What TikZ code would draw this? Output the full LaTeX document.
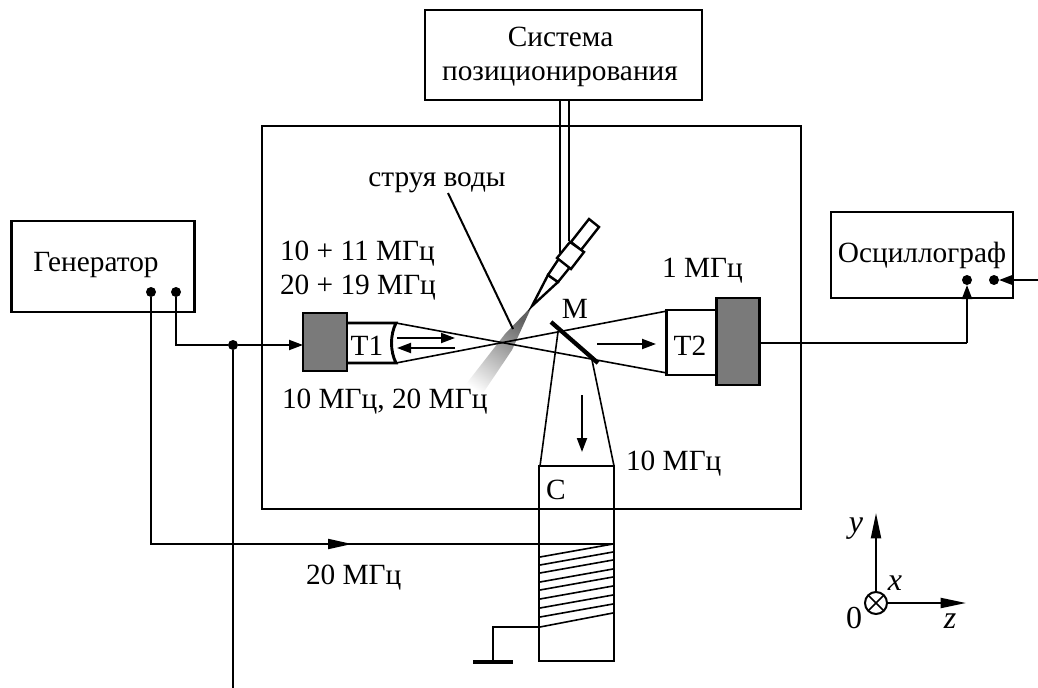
\documentclass[tikz,border=0pt]{standalone}
\usepackage{fontspec}
\setmainfont{Liberation Serif}
\usetikzlibrary{arrows.meta,shadings}
\tikzset{
  px/.style={x=0.75pt,y=-0.75pt},
  boxnode/.style={draw=black,line width=2.2pt,inner sep=0pt,outer sep=0pt,fill=white},
  heavy/.style={draw=black,line width=2.2pt},
  wire/.style={draw=black,line width=1.5pt},
  thin wire/.style={draw=black,line width=1.2pt},
  tip/.style={-{Triangle[length=10.5pt,width=7.5pt]}},
  tipmid/.style={-{Triangle[length=18pt,width=7.5pt]}},
  tiplong/.style={-{Triangle[length=19pt,width=7.5pt]}},
  dotnode/.style={circle,fill=black,inner sep=0pt,minimum size=7.5pt,outer sep=0pt},
  lbl/.style={font=\fontsize{22pt}{26pt}\selectfont,inner sep=0pt,outer sep=0pt,anchor=base},
  lblw/.style={lbl,anchor=base west},
  ital/.style={lbl,font=\fontsize{24pt}{26pt}\selectfont\itshape},
  axn/.style={lbl,font=\fontsize{24pt}{26pt}\selectfont},
  dither/.style={fill=black!52}
}
\begin{document}
\begin{tikzpicture}[px]
\useasboundingbox (0,0) rectangle (1038,688);

% chamber
\node[boxnode,fill=none,minimum width=404.25pt,minimum height=287.25pt] (chamber) at (531.5,317.5) {};

% water jet
\shade[top color=black!62,bottom color=white,shading angle=-34]
  (532,306) -- (505,334) -- (463,388) -- (477,402) -- (512,350) -- cycle;

% positioning system and stem
\node[boxnode,minimum width=207.75pt,minimum height=67.5pt] (pos) at (563.5,55) {};
\node[lbl] (postxt1) at (560.5,47) {Система};
\node[lbl] (postxt2) at (560,81) {позиционирования};
\coordinate (stemAtop) at (560,100);
\coordinate (stemBtop) at (569,100);
\coordinate (stemAend) at (560,253);
\coordinate (stemBend) at (569,241);
\draw[wire] (stemAtop) -- (stemAend);
\draw[wire] (stemBtop) -- (stemBend);

% nozzle
\draw[heavy,line width=1.8pt,fill=white] (589,219) -- (599,227) -- (581,250) -- (571,242) -- cycle;
\draw[heavy,line width=1.8pt,fill=white] (548,275) -- (532,306) -- (558,282) -- cycle;
\draw[heavy,line width=1.8pt,fill=white] (548,275) -- (558,282) -- (571,266) -- (560,257) -- cycle;
\draw[heavy,line width=1.8pt,fill=white] (570,242) -- (584,252) -- (571,269) -- (557,258) -- cycle;

% jet label and leader
\node[lbl] (jettxt) at (437,186) {струя воды};
\coordinate (jetpt) at (513,329);
\coordinate (jetlead) at (448,193);
\draw[wire] (jetlead) -- (jetpt);

% generator
\node[boxnode,minimum width=137.25pt,minimum height=68.25pt] (gen) at (103,266.5) {};
\node[lbl] (gentxt) at (96,271) {Генератор};
\node[dotnode] (g1) at (151,292) {};
\node[dotnode] (g2) at (176,292) {};
\node[dotnode] (j) at (233,345) {};
\coordinate (jdown) at (233,688);

% T1
\node[boxnode,dither,minimum width=33pt,minimum height=43.5pt] (s1) at (325,342) {};
\coordinate (t1a) at (347,323);
\coordinate (t1b) at (396,323);
\coordinate (t1c) at (396,363);
\coordinate (t1d) at (347,363);
\draw[heavy] (t1a) -- (t1b) .. controls (390,335) and (390,351) .. (t1c) -- (t1d);
\node[lbl] (t1txt) at (367,355) {Т1};

% T2
\node[boxnode,minimum width=37pt,minimum height=48.75pt] (t2) at (691.5,342.5) {};
\node[boxnode,dither,minimum width=32pt,minimum height=65.25pt] (s2) at (738,341.5) {};
\node[lbl] (t2txt) at (690,355) {Т2};

% beams
\coordinate (tA) at (667,373);
\coordinate (tB) at (667,311);
\draw[thin wire] (t1b) -- (tA);
\draw[thin wire] (t1c) -- (tB);

% mirror and beams to C
\coordinate (m1) at (551,322);
\coordinate (m2) at (598,363);
\coordinate (mA) at (558,332);
\coordinate (mB) at (592,360);
\draw[black,line width=3.2pt] (m1) -- (m2);

% C cell
\node[boxnode,fill=none,minimum width=56.25pt,minimum height=146.25pt] (cell) at (576.5,563.5) {};
\node[lbl] (ctxt) at (556,499) {С};
\coordinate (cA) at (540,466);
\coordinate (cB) at (614,466);
\draw[thin wire] (mA) -- (cA);
\draw[thin wire] (mB) -- (cB);

% beam arrows
\coordinate (a1s) at (397,338); \coordinate (a1e) at (455,338);
\coordinate (a2s) at (455,348); \coordinate (a2e) at (397,348);
\coordinate (a3s) at (597,344); \coordinate (a3e) at (656,344);
\coordinate (a4s) at (582,395); \coordinate (a4e) at (582,452);
\draw[wire,tip] (a1s) -- (a1e);
\draw[wire,tip] (a2s) -- (a2e);
\draw[wire,tip] (a3s) -- (a3e);
\draw[wire,tip] (a4s) -- (a4e);

% coil
\foreach \l/\r in {557/544,565/552,573/560,582/569,590/577,599/586,608/595,617/604,627/613}
  \draw[thin wire] (540,\l) -- (613,\r);

% ground
\coordinate (gndA) at (539,627);
\coordinate (gndB) at (493,627);
\coordinate (gndC) at (493,661);
\draw[thin wire] (gndA) -- (gndB) -- (gndC);
\coordinate (barL) at (473,662);
\coordinate (barR) at (513,662);
\draw[black,line width=3.6pt] (barL) -- (barR);

% wires
\coordinate (coilin) at (613,544);
\coordinate (g1b) at (151,544);
\coordinate (g1m) at (352,544);
\draw[wire] (g1) -- (g1b) -- (coilin);
\draw[wire,tipmid] (g1b) -- (g1m);
\coordinate (g2b) at (176,345);
\coordinate (s1in) at (303,345);
\draw[wire] (g2) -- (g2b) -- (j);
\draw[wire,tip] (j) -- (s1in);
\draw[wire] (j) -- (jdown);

% oscilloscope
\node[boxnode,minimum width=136.5pt,minimum height=64.5pt] (osc) at (922,255) {};
\node[lbl] (osctxt) at (922,262) {Осциллограф};
\node[dotnode] (o1) at (967,280) {};
\node[dotnode] (o2) at (994,280) {};
\coordinate (oin) at (1038,280);
\coordinate (owire) at (967,343);
\draw[wire,tip] (oin) -- (o2);
\draw[wire] (s2.east |- owire) -- (owire);
\draw[wire,tip] (owire) -- (o1);

% axes
\node[draw=black,line width=1.5pt,circle,minimum size=16.5pt,inner sep=0pt,outer sep=0pt,
      path picture={\draw[black,line width=1.3pt] (path picture bounding box.south west) -- (path picture bounding box.north east)
        (path picture bounding box.north west) -- (path picture bounding box.south east);}] (orig) at (876,603) {};
\coordinate (yend) at (876,513);
\coordinate (zend) at (966,603);
\draw[wire,tiplong] (orig) -- (yend);
\draw[wire,tiplong] (orig) -- (zend);

% labels
\node[lblw] (l1) at (280,260) {10 + 11 МГц};
\node[lblw] (l2) at (280,294) {20 + 19 МГц};
\node[lblw] (l3) at (282,408) {10 МГц, 20 МГц};
\node[lblw] (l4) at (662,277) {1 МГц};
\node[lbl] (l5) at (575,318) {М};
\node[lblw] (l6) at (626,470) {10 МГц};
\node[lblw] (l7) at (306,584) {20 МГц};
\node[ital] (ly) at (856,532) {y};
\node[ital] (lx) at (895,590) {x};
\node[ital] (lz) at (950,628) {z};
\node[axn] (l0) at (854,628) {0};
\end{tikzpicture}
\end{document}
